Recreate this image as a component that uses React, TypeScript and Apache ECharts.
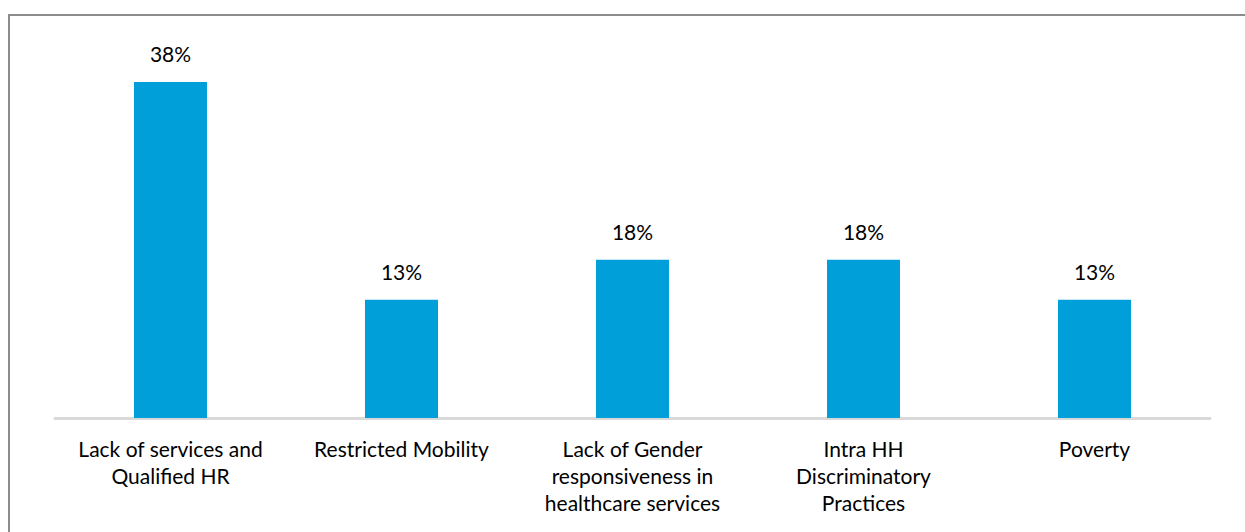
import React, { useEffect, useRef } from "react";
import * as echarts from "echarts";

const categories = [
  "Lack of services and Qualified HR",
  "Restricted Mobility",
  "Lack of Gender responsiveness in healthcare services",
  "Intra HH Discriminatory Practices",
  "Poverty",
];
const tickLabels = [
  "Lack of services and\nQualified HR",
  "Restricted Mobility",
  "Lack of Gender\nresponsiveness in\nhealthcare services",
  "Intra HH\nDiscriminatory\nPractices",
  "Poverty",
];
const values = [37.8, 13.3, 17.8, 17.8, 13.3];

export default function App() {
  const ref = useRef<HTMLDivElement>(null);
  useEffect(() => {
    const chart = echarts.init(ref.current!, null, { renderer: "svg" });
    chart.setOption({
      animation: false,
      textStyle: { fontFamily: "Lato" },
      grid: { left: 55, right: 35, top: 62.4, bottom: 114 },
      xAxis: {
        type: "category",
        data: categories,
        offset: 1.5,
        axisLine: { lineStyle: { color: "#d9d9d9", width: 3 } },
        axisTick: { show: false },
        axisLabel: {
          interval: 0,
          margin: 15,
          fontSize: 21,
          lineHeight: 27,
          color: "#000",
          fontFamily: "Lato",
          formatter: (_v: string, i: number) => tickLabels[i],
        },
      },
      yAxis: {
        type: "value",
        min: 0,
        max: 40,
        show: false,
        splitLine: { show: false },
      },
      graphic: [
        { type: "line", shape: { x1: 8, y1: 15, x2: 1245, y2: 15 }, style: { stroke: "#8c8c8c", lineWidth: 2 } },
        { type: "line", shape: { x1: 9, y1: 15, x2: 9, y2: 532 }, style: { stroke: "#8c8c8c", lineWidth: 2 } },
      ],
      series: [
        {
          type: "bar",
          data: values,
          barWidth: 73,
          itemStyle: { color: "#009fda" },
          label: {
            show: true,
            position: "top",
            distance: 18,
            fontSize: 21,
            color: "#000",
            fontFamily: "Lato",
            formatter: (p: any) => `${Math.round(p.value)}%`,
          },
        },
      ],
    });
    return () => chart.dispose();
  }, []);
  return (
    <div
      ref={ref}
      style={{ position: "absolute", left: 0, top: 0, width: 1245, height: 532, background: "#fff" }}
    />
  );
}
